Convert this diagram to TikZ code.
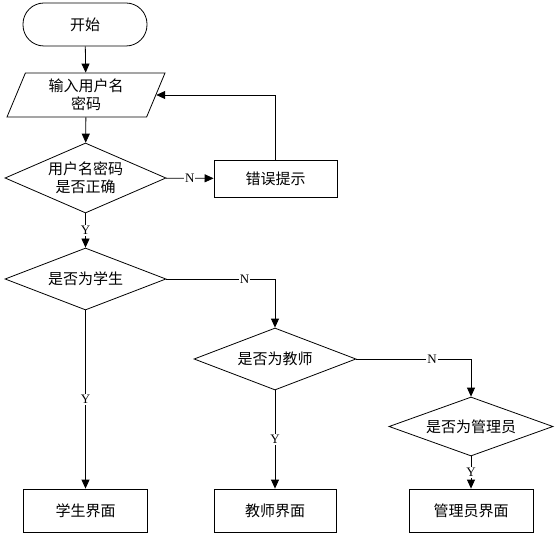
\documentclass[tikz,border=0pt]{standalone}
\usepackage{fontspec}
\setmainfont{Liberation Serif}
\newfontfamily\cjk{Noto Sans CJK SC}
\usetikzlibrary{shapes.geometric,arrows.meta}
\begin{document}
\begin{tikzpicture}[x=1pt,y=-1pt,
  every node/.style={font=\cjk\fontsize{15}{18}\selectfont, align=center},
  base/.style={draw, line width=0.8pt, inner sep=0pt},
  term/.style={base, rectangle, rounded corners=21pt, minimum width=124pt, minimum height=43pt},
  io/.style={base, trapezium, trapezium left angle=60, trapezium right angle=120, trapezium stretches body, minimum width=158pt, minimum height=44pt},
  dec/.style={base, diamond, aspect=2.3},
  box/.style={base, rectangle, minimum width=123pt, minimum height=43pt},
  lbl/.style={font=\fontsize{13}{13}\selectfont, fill=white, inner sep=1pt},
  arr/.style={line width=0.8pt, -{Triangle[width=8pt,length=9pt]}}
]
\useasboundingbox (0,0) rectangle (556,537);
\node[term] (start) at (85,24.5) {开始};
\node[io] (in) at (86,95) {输入用户名\\密码};
\node[dec, minimum width=161pt, minimum height=70pt] (d1) at (85.5,178) {用户名密码\\是否正确};
\node[box, minimum height=37pt] (err) at (275.5,178.5) {错误提示};
\node[dec, minimum width=161pt, minimum height=62pt] (d2) at (85.5,279) {是否为学生};
\node[dec, minimum width=162pt, minimum height=62pt] (d3) at (275,359) {是否为教师};
\node[dec, minimum width=164pt, minimum height=59pt] (d4) at (471,426.5) {是否为管理员};
\node[box, minimum width=124pt] (stu) at (85.5,510.5) {学生界面};
\node[box, minimum width=122pt] (tea) at (275,510.5) {教师界面};
\node[box, minimum width=124pt] (adm) at (471,510.5) {管理员界面};

\draw[arr] (start) -- (in);
\draw[arr] (in) -- (d1);
\draw[arr] (d1) -- node[lbl]{N} (err);
\draw[arr] (err.north) |- (in);
\draw[arr] (d1) -- node[lbl]{Y} (d2);
\draw[arr] (d2.east) -| node[lbl, pos=0.36]{N} (d3.north);
\draw[arr] (d2) -- node[lbl]{Y} (stu);
\draw[arr] (d3.east) -| node[lbl, pos=0.33]{N} (d4.north);
\draw[arr] (d3) -- node[lbl]{Y} (tea);
\draw[arr] (d4) -- node[lbl]{Y} (adm);
\end{tikzpicture}
\end{document}
